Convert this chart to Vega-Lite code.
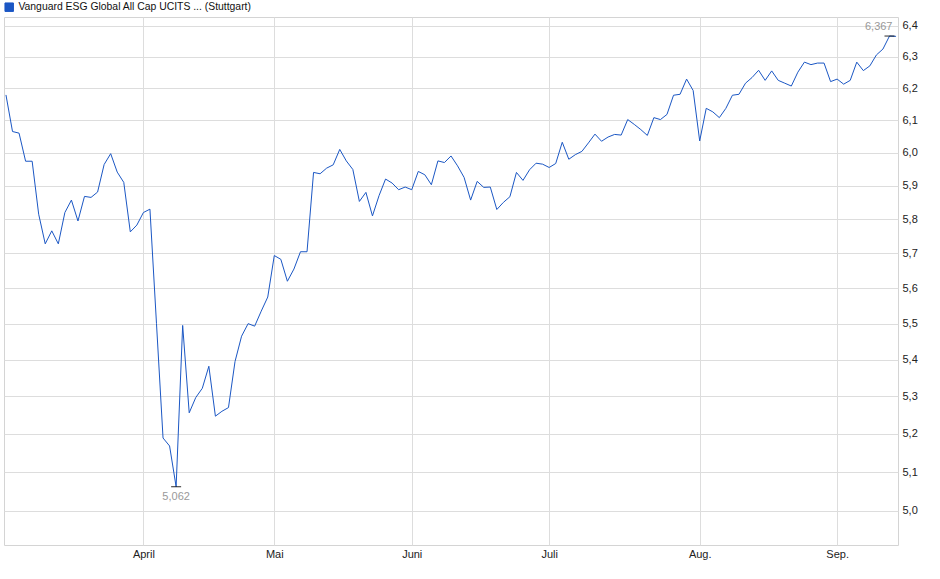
{
  "$schema": "https://vega.github.io/schema/vega-lite/v6.json",
  "width": 894,
  "height": 528,
  "autosize": {"type": "none"},
  "padding": {"left": 4, "top": 17, "right": 42, "bottom": 34},
  "background": "white",
  "config": {
    "font": "Liberation Sans",
    "view": {"stroke": "#d4d4d4", "strokeWidth": 1},
    "axis": {"gridColor": "#dddddd", "gridWidth": 1, "labelFontSize": 11, "labelColor": "#222222", "labelFont": "Liberation Sans"}
  },
  "data": {
    "values": [
      {"d": "2025-03-03", "v": 6.179}, {"d": "2025-03-04", "v": 6.065}, {"d": "2025-03-05", "v": 6.060},
      {"d": "2025-03-06", "v": 5.974}, {"d": "2025-03-07", "v": 5.974}, {"d": "2025-03-10", "v": 5.815},
      {"d": "2025-03-11", "v": 5.728}, {"d": "2025-03-12", "v": 5.766}, {"d": "2025-03-13", "v": 5.728},
      {"d": "2025-03-14", "v": 5.820}, {"d": "2025-03-17", "v": 5.857}, {"d": "2025-03-18", "v": 5.795},
      {"d": "2025-03-19", "v": 5.868}, {"d": "2025-03-20", "v": 5.865}, {"d": "2025-03-21", "v": 5.881},
      {"d": "2025-03-24", "v": 5.964}, {"d": "2025-03-25", "v": 5.997}, {"d": "2025-03-26", "v": 5.941},
      {"d": "2025-03-27", "v": 5.910}, {"d": "2025-03-28", "v": 5.763}, {"d": "2025-03-31", "v": 5.783},
      {"d": "2025-04-01", "v": 5.820}, {"d": "2025-04-02", "v": 5.830}, {"d": "2025-04-03", "v": 5.500},
      {"d": "2025-04-04", "v": 5.189}, {"d": "2025-04-07", "v": 5.168}, {"d": "2025-04-08", "v": 5.062},
      {"d": "2025-04-09", "v": 5.495}, {"d": "2025-04-10", "v": 5.256}, {"d": "2025-04-11", "v": 5.297},
      {"d": "2025-04-14", "v": 5.322}, {"d": "2025-04-15", "v": 5.382}, {"d": "2025-04-16", "v": 5.247},
      {"d": "2025-04-17", "v": 5.260}, {"d": "2025-04-22", "v": 5.270}, {"d": "2025-04-23", "v": 5.395},
      {"d": "2025-04-24", "v": 5.465}, {"d": "2025-04-25", "v": 5.500}, {"d": "2025-04-28", "v": 5.493},
      {"d": "2025-04-29", "v": 5.535}, {"d": "2025-04-30", "v": 5.575}, {"d": "2025-05-02", "v": 5.694},
      {"d": "2025-05-05", "v": 5.683}, {"d": "2025-05-06", "v": 5.620}, {"d": "2025-05-07", "v": 5.655},
      {"d": "2025-05-08", "v": 5.705}, {"d": "2025-05-09", "v": 5.705}, {"d": "2025-05-12", "v": 5.940},
      {"d": "2025-05-13", "v": 5.936}, {"d": "2025-05-14", "v": 5.953}, {"d": "2025-05-15", "v": 5.963},
      {"d": "2025-05-16", "v": 6.010}, {"d": "2025-05-19", "v": 5.975}, {"d": "2025-05-20", "v": 5.949},
      {"d": "2025-05-21", "v": 5.853}, {"d": "2025-05-22", "v": 5.880}, {"d": "2025-05-23", "v": 5.810},
      {"d": "2025-05-26", "v": 5.870}, {"d": "2025-05-27", "v": 5.920}, {"d": "2025-05-28", "v": 5.908},
      {"d": "2025-05-29", "v": 5.888}, {"d": "2025-05-30", "v": 5.896}, {"d": "2025-06-02", "v": 5.888},
      {"d": "2025-06-03", "v": 5.943}, {"d": "2025-06-04", "v": 5.933}, {"d": "2025-06-05", "v": 5.903},
      {"d": "2025-06-06", "v": 5.975}, {"d": "2025-06-09", "v": 5.970}, {"d": "2025-06-10", "v": 5.990},
      {"d": "2025-06-11", "v": 5.960}, {"d": "2025-06-12", "v": 5.925}, {"d": "2025-06-13", "v": 5.857},
      {"d": "2025-06-16", "v": 5.913}, {"d": "2025-06-17", "v": 5.895}, {"d": "2025-06-18", "v": 5.896},
      {"d": "2025-06-19", "v": 5.829}, {"d": "2025-06-20", "v": 5.850}, {"d": "2025-06-23", "v": 5.867},
      {"d": "2025-06-24", "v": 5.940}, {"d": "2025-06-25", "v": 5.916}, {"d": "2025-06-26", "v": 5.948},
      {"d": "2025-06-27", "v": 5.968}, {"d": "2025-06-30", "v": 5.965}, {"d": "2025-07-01", "v": 5.955},
      {"d": "2025-07-02", "v": 5.967}, {"d": "2025-07-03", "v": 6.032}, {"d": "2025-07-04", "v": 5.980},
      {"d": "2025-07-07", "v": 5.994}, {"d": "2025-07-08", "v": 6.004}, {"d": "2025-07-09", "v": 6.030},
      {"d": "2025-07-10", "v": 6.057}, {"d": "2025-07-11", "v": 6.035}, {"d": "2025-07-14", "v": 6.048},
      {"d": "2025-07-15", "v": 6.056}, {"d": "2025-07-16", "v": 6.054}, {"d": "2025-07-17", "v": 6.102},
      {"d": "2025-07-18", "v": 6.087}, {"d": "2025-07-21", "v": 6.071}, {"d": "2025-07-22", "v": 6.053},
      {"d": "2025-07-23", "v": 6.108}, {"d": "2025-07-24", "v": 6.102}, {"d": "2025-07-25", "v": 6.118},
      {"d": "2025-07-28", "v": 6.178}, {"d": "2025-07-29", "v": 6.181}, {"d": "2025-07-30", "v": 6.229},
      {"d": "2025-07-31", "v": 6.193}, {"d": "2025-08-01", "v": 6.036}, {"d": "2025-08-04", "v": 6.137},
      {"d": "2025-08-05", "v": 6.126}, {"d": "2025-08-06", "v": 6.108}, {"d": "2025-08-07", "v": 6.137},
      {"d": "2025-08-08", "v": 6.178}, {"d": "2025-08-11", "v": 6.181}, {"d": "2025-08-12", "v": 6.216},
      {"d": "2025-08-13", "v": 6.234}, {"d": "2025-08-14", "v": 6.257}, {"d": "2025-08-15", "v": 6.225},
      {"d": "2025-08-18", "v": 6.255}, {"d": "2025-08-19", "v": 6.225}, {"d": "2025-08-20", "v": 6.216},
      {"d": "2025-08-21", "v": 6.207}, {"d": "2025-08-22", "v": 6.251}, {"d": "2025-08-25", "v": 6.283},
      {"d": "2025-08-26", "v": 6.275}, {"d": "2025-08-27", "v": 6.280}, {"d": "2025-08-28", "v": 6.280},
      {"d": "2025-08-29", "v": 6.221}, {"d": "2025-09-01", "v": 6.229}, {"d": "2025-09-02", "v": 6.213},
      {"d": "2025-09-03", "v": 6.225}, {"d": "2025-09-04", "v": 6.283}, {"d": "2025-09-05", "v": 6.256},
      {"d": "2025-09-08", "v": 6.271}, {"d": "2025-09-09", "v": 6.306}, {"d": "2025-09-10", "v": 6.325},
      {"d": "2025-09-11", "v": 6.367}, {"d": "2025-09-12", "v": 6.366}
    ]
  },
  "encoding": {
    "x": {
      "field": "d",
      "type": "ordinal",
      "scale": {"type": "point", "padding": 0.3},
      "axis": {
        "title": null,
        "values": ["2025-04-01", "2025-05-02", "2025-06-02", "2025-07-01", "2025-08-01", "2025-09-01"],
        "labelExpr": "['Jan.','Feb.','März','April','Mai','Juni','Juli','Aug.','Sep.','Okt.','Nov.','Dez.'][toNumber(substring(datum.value, 5, 7)) - 1]",
        "labelAngle": 0,
        "ticks": false,
        "domain": false,
        "grid": true,
        "labelPadding": 3
      }
    },
    "y": {
      "field": "v",
      "type": "quantitative",
      "scale": {"type": "log", "domain": [4.914, 6.429], "nice": false},
      "axis": {
        "title": null,
        "orient": "right",
        "values": [5.0, 5.1, 5.2, 5.3, 5.4, 5.5, 5.6, 5.7, 5.8, 5.9, 6.0, 6.1, 6.2, 6.3, 6.4],
        "labelExpr": "replace(format(datum.value, '.1f'), '.', ',')",
        "ticks": false,
        "domain": false,
        "grid": true,
        "labelPadding": 4,
        "labelBaseline": "middle"
      }
    }
  },
  "layer": [
    {
      "mark": {"type": "line", "strokeWidth": 1, "interpolate": "linear"},
      "encoding": {
        "color": {
          "datum": "Vanguard ESG Global All Cap UCITS ... (Stuttgart)",
          "scale": {"range": ["#1b57c4"]},
          "legend": {
            "title": null,
            "orient": "none",
            "legendX": 0,
            "legendY": -15,
            "symbolType": "square",
            "symbolSize": 72,
            "symbolFillColor": "#1b57c4",
            "symbolStrokeColor": "#0b2560",
            "symbolStrokeWidth": 1,
            "labelFontSize": 10.4,
            "labelColor": "#111111",
            "labelLimit": 0,
            "labelOffset": 4
          }
        }
      }
    },
    {
      "transform": [
        {"joinaggregate": [{"op": "min", "field": "v", "as": "lo"}, {"op": "max", "field": "v", "as": "hi"}]},
        {"filter": "datum.v == datum.lo || datum.v == datum.hi"}
      ],
      "mark": {"type": "tick", "orient": "horizontal", "size": 10, "thickness": 1.2, "color": "#000000"}
    },
    {
      "transform": [
        {"joinaggregate": [{"op": "min", "field": "v", "as": "lo"}]},
        {"filter": "datum.v == datum.lo"},
        {"calculate": "replace(format(datum.v, '.3f'), '.', ',')", "as": "lab"}
      ],
      "mark": {"type": "text", "align": "center", "baseline": "middle", "dy": 10, "fontSize": 11, "color": "#999999"},
      "encoding": {"text": {"field": "lab"}}
    },
    {
      "transform": [
        {"joinaggregate": [{"op": "max", "field": "v", "as": "hi"}]},
        {"filter": "datum.v == datum.hi"},
        {"calculate": "replace(format(datum.v, '.3f'), '.', ',')", "as": "lab"}
      ],
      "mark": {"type": "text", "align": "right", "baseline": "middle", "dx": 3, "dy": -9, "fontSize": 11, "color": "#999999"},
      "encoding": {"text": {"field": "lab"}}
    }
  ]
}
